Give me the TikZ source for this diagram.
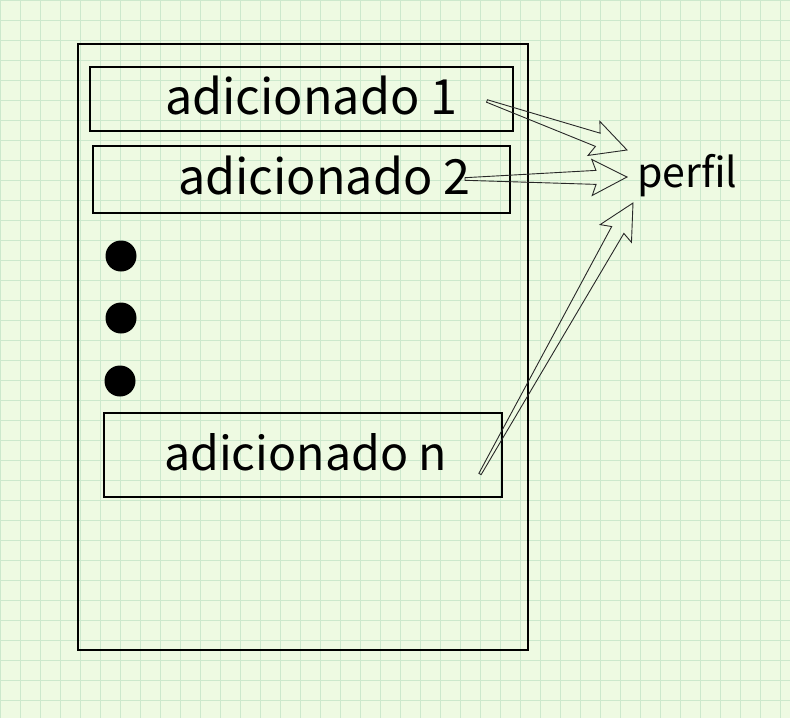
\documentclass[tikz,border=0pt]{standalone}
\usepackage{fontspec}
\setmainfont{Noto Sans CJK SC}
\usetikzlibrary{calc}
\definecolor{bgcol}{RGB}{238,250,226}
\definecolor{gridcol}{RGB}{204,232,204}
\definecolor{arrowcol}{RGB}{40,40,40}
\tikzset{
  boxnode/.style={draw=black, line width=2pt, rectangle, inner sep=0pt},
  lbl/.style={anchor=base west, inner sep=0pt, font=\fontsize{48.5}{56}\selectfont},
  nlbl/.style={anchor=base west, inner sep=0pt, font=\fontsize{46.5}{56}\selectfont},
  plbl/.style={anchor=base west, inner sep=0pt, font=\fontsize{41}{48}\selectfont},
  dotnode/.style={circle, fill=black, minimum size=31pt, inner sep=0pt},
  harrow/.style={draw=arrowcol, line width=0.9pt, line join=miter},
}
\newcommand{\hollowarrow}[2]{%
  \coordinate (hab) at ($(#2)!35pt!(#1)$);
  \coordinate (han) at ($(#2)!31pt!(#1)$);
  \draw[harrow] ($(#1)!1.3pt!90:(#2)$) -- ($(han)!7pt!90:(#2)$) -- ($(hab)!18pt!90:(#2)$) -- (#2)
    -- ($(hab)!18pt!-90:(#2)$) -- ($(han)!7pt!-90:(#2)$) -- ($(#1)!1.3pt!-90:(#2)$) -- cycle;
}
\begin{document}
\begin{tikzpicture}[x=1pt, y=-1pt]
  \useasboundingbox (0,0) rectangle (790,718);
  \fill[bgcol] (0,0) rectangle (790,718);
  \foreach \i in {0,...,39} {
    \draw[gridcol, line width=1.2pt] ({0.7+20*\i},0) -- ({0.7+20*\i},718);
  }
  \foreach \j in {0,...,35} {
    \draw[gridcol, line width=1.2pt] (0,{0.7+20*\j}) -- (790,{0.7+20*\j});
  }
  % outer container
  \node[boxnode, minimum width=450pt, minimum height=606pt] (outer) at (303,347) {};
  % boxes
  \node[boxnode, minimum width=423pt, minimum height=64pt] (box1) at (301.5,99) {};
  \node[boxnode, minimum width=417pt, minimum height=67pt] (box2) at (301.5,179.5) {};
  \node[boxnode, minimum width=398pt, minimum height=84pt] (boxn) at (303,455) {};
  % labels
  \node[lbl] (l1) at (165,114) {adicionado 1};
  \node[lbl] (l2) at (178,194) {adicionado 2};
  \node[nlbl] (ln) at (164,470) {adicionado n};
  % dots
  \node[dotnode] (d1) at (121,256) {};
  \node[dotnode] (d2) at (121,318) {};
  \node[dotnode] (d3) at (120,381) {};
  % target
  \node[plbl, inner xsep=10pt] (perfil) at (627,187) {perfil};
  % arrow ends
  \coordinate (t1) at (487,101);
  \coordinate (t2) at (465,179);
  \coordinate (t3) at (480,474);
  \coordinate (h1) at ($(perfil.base west)+(0,-37)$);
  \coordinate (h2) at ($(perfil.base west)+(0,-10)$);
  \coordinate (h3) at ($(perfil.base west)+(6,16)$);
  \hollowarrow{t1}{h1}
  \hollowarrow{t2}{h2}
  \hollowarrow{t3}{h3}
\end{tikzpicture}
\end{document}
